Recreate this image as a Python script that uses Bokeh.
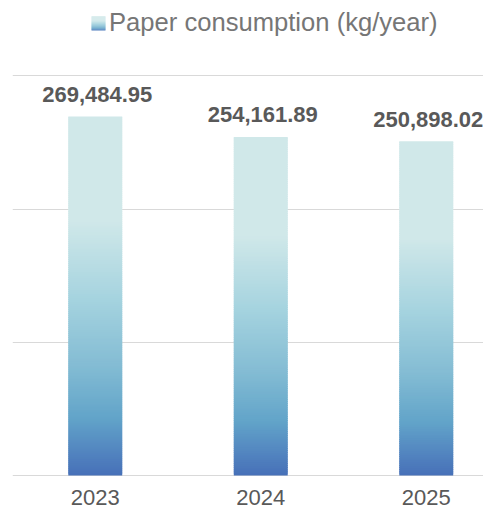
from bokeh.plotting import figure
from bokeh.models import (Range1d, FixedTicker, ColumnDataSource, Legend, LegendItem,
                          BoxAnnotation, Grid)
from bokeh.embed import file_html
from bokeh.resources import INLINE
from bokeh.core.properties import value

# ---- data ----
years = ["2023", "2024", "2025"]
consumption = [269484.95, 254161.89, 250898.02]
y_ticks = [0, 100000, 200000, 300000]
series_name = "Paper consumption (kg/year)"

# ---- styling ----
FONT = "Liberation Sans"
stops = [
    (0.00, (70, 112, 184)),
    (0.07, (83, 134, 192)),
    (0.16, (98, 164, 201)),
    (0.30, (130, 187, 211)),
    (0.49, (165, 211, 223)),
    (0.71, (208, 232, 233)),
    (1.00, (208, 232, 233)),
]


def color_at(f):
    for (f0, c0), (f1, c1) in zip(stops[:-1], stops[1:]):
        if f <= f1:
            t = 0 if f1 == f0 else (f - f0) / (f1 - f0)
            c = [round(a + (b - a) * t) for a, b in zip(c0, c1)]
            return "#%02x%02x%02x" % tuple(c)
    return "#%02x%02x%02x" % stops[-1][1]


xs = [i + 0.5 for i in range(len(years))]
N = 180
src = dict(x=[], bottom=[], top=[], color=[])
for x, v in zip(xs, consumption):
    for k in range(N):
        src["x"].append(x)
        src["bottom"].append(v * k / N)
        src["top"].append(v * min(k + 1.6, N) / N)   # slight overlap hides seams
        src["color"].append(color_at((k + 0.5) / N))
source = ColumnDataSource(src)

W, H = 483, 510
p = figure(width=W, height=H, output_backend="svg", toolbar_location=None,
           x_range=Range1d(0, 471 / 165.5), y_range=Range1d(-26300, 356600),
           x_axis_location=None, y_axis_location=None,
           min_border_left=12, min_border_right=0, min_border_top=0, min_border_bottom=0)
p.outline_line_color = None
p.background_fill_color = "white"
p.border_fill_color = "white"
p.grid.visible = False

p.add_layout(Grid(dimension=1, ticker=FixedTicker(ticks=y_ticks),
                  grid_line_color="#d9d9d9", grid_line_width=1.2))

bars = p.vbar(x="x", bottom="bottom", top="top", width=0.326, source=source,
              fill_color="color", line_color=None)

# value labels
p.text(x=xs, y=consumption, text=[f"{v:,.2f}" for v in consumption],
       text_align="center", text_baseline="alphabetic", x_offset=2, y_offset=-22,
       text_font=value(FONT), text_font_style="bold", text_font_size="22px",
       text_color="#595959")

# category labels (x axis)
p.text(x=xs, y=[0] * len(xs), text=years,
       text_align="center", text_baseline="alphabetic", y_offset=22,
       text_font=value(FONT), text_font_size="22px", text_color="#595959")

dummy = p.scatter(x=[], y=[], marker="square", fill_alpha=0, line_alpha=0)
legend = Legend(items=[LegendItem(label=series_name, renderers=[dummy])],
                location=(79, 473), orientation="horizontal", padding=0, margin=0, spacing=0,
                border_line_color=None, background_fill_alpha=0,
                glyph_width=14, glyph_height=14, label_standoff=4,
                label_text_font=FONT, label_text_font_size="25.6px", label_text_color="#767676")
p.add_layout(legend, "center")

# gradient legend icon
for k in range(14):
    p.add_layout(BoxAnnotation(left=79, right=93, bottom=480 + k, top=481.3 + k,
                               left_units="screen", right_units="screen",
                               bottom_units="screen", top_units="screen",
                               fill_color=color_at((k + 0.5) / 14), fill_alpha=1,
                               line_color=None, level="overlay"))

open("out.html", "w").write(file_html(p, INLINE))
